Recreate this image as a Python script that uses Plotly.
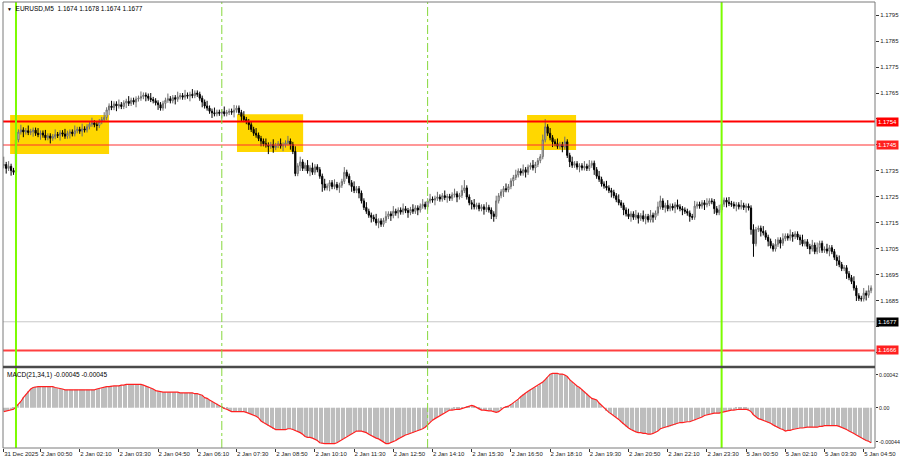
import plotly.graph_objects as go
from datetime import datetime, timedelta

# ---------------- data ----------------
# bar sessions: (first bar time, number of 5-minute bars)
sessions = [("2025-12-31 23:35", 5), ("2026-01-02 00:00", 288), ("2026-01-05 00:00", 62)]

first_open_pts = 1370  # points above 1.16000
# closes, in points (0.00001) above 1.16000
closes_pts = [
    1375, 1360, 1368, 1352, 1345,
    1470, 1500, 1508, 1500, 1505, 1498, 1502, 1507, 1495, 1490,
    1496, 1488, 1478, 1485, 1476, 1482, 1490, 1487, 1497, 1492,
    1484, 1495, 1500, 1493, 1505, 1510, 1503, 1512, 1508, 1520,
    1530, 1535, 1528, 1525, 1540, 1548, 1556, 1585, 1600, 1594,
    1608, 1600, 1605, 1598, 1612, 1618, 1610, 1622, 1615, 1627,
    1630, 1636, 1642, 1638, 1630, 1625, 1620, 1612, 1605, 1592,
    1610, 1622, 1628, 1620, 1632, 1626, 1635, 1640, 1634, 1642,
    1638, 1645, 1640, 1650, 1645, 1630, 1615, 1600, 1592, 1580,
    1574, 1570, 1576, 1572, 1578, 1570, 1575, 1580, 1576, 1584,
    1592, 1575, 1560, 1548, 1540, 1528, 1510, 1495, 1488, 1475,
    1465, 1455, 1450, 1445, 1452, 1440, 1448, 1455, 1446, 1450,
    1458, 1465, 1452, 1425, 1340, 1370, 1385, 1360, 1372, 1350,
    1362, 1345, 1366, 1355, 1330, 1300, 1285, 1292, 1305, 1290,
    1298, 1286, 1295, 1310, 1345, 1330, 1305, 1290, 1275, 1282,
    1265, 1235, 1210, 1195, 1180, 1172, 1165, 1150, 1158, 1145,
    1160, 1175, 1185, 1178, 1195, 1188, 1200, 1192, 1205, 1198,
    1190, 1202, 1195, 1208, 1200, 1215, 1222, 1212, 1235, 1242,
    1238, 1245, 1250, 1242, 1255, 1248, 1252, 1245, 1258, 1262,
    1250, 1256, 1275, 1285, 1250, 1228, 1222, 1212, 1218, 1205,
    1212, 1202, 1210, 1200, 1185, 1175, 1235, 1255, 1270, 1282,
    1278, 1290, 1312, 1325, 1335, 1350, 1342, 1355, 1345, 1365,
    1372, 1362, 1375, 1390, 1405, 1470, 1520, 1495, 1478, 1462,
    1455, 1445, 1452, 1442, 1462, 1410, 1385, 1372, 1378, 1365,
    1370, 1362, 1368, 1360, 1372, 1380, 1355, 1330, 1318, 1300,
    1292, 1285, 1275, 1268, 1255, 1240, 1228, 1218, 1200, 1185,
    1175, 1185, 1172, 1180, 1168, 1178, 1165, 1175, 1162, 1180,
    1172, 1188, 1212, 1235, 1210, 1218, 1205, 1215, 1208, 1220,
    1212, 1205, 1200, 1195, 1188, 1175, 1172, 1215, 1222, 1215,
    1228, 1220, 1225, 1235, 1232, 1205, 1190, 1200, 1222, 1238,
    1230, 1225, 1222, 1215, 1220, 1212, 1218, 1210, 1215, 1208,
    1125, 1070, 1125, 1130, 1118, 1112, 1095, 1080, 1062, 1050,
    1068, 1085, 1072, 1090, 1100, 1092, 1105, 1098, 1108, 1095,
    1085, 1070, 1078, 1060, 1050, 1065, 1040, 1055, 1072, 1045,
    1050, 1042, 1055, 1040, 1018, 1005, 990, 975, 978, 955,
    940, 925, 900, 870, 860, 858, 880, 872, 890, 900,
]
# upper / lower shadows beyond the body, in pips
up_wick_pips = [
    3, 1, 2, 1, 1,
    1, 1, 2, 1, 1, 2, 1, 1, 1, 2, 1, 1, 2, 1, 1, 1, 2, 1, 1, 1,
    2, 1, 1, 1, 2, 1, 1, 2, 1, 1, 1, 2, 1, 1, 1, 1, 2, 1, 1, 2,
    1, 1, 2, 1, 1, 1, 2, 1, 1, 1, 1, 2, 1, 1, 1, 2, 1, 1, 1, 1,
    1, 1, 2, 1, 1, 1, 2, 1, 1, 2, 1, 1, 2, 1, 1, 1, 1, 1, 2, 1,
    1, 2, 1, 1, 1, 2, 1, 1, 1, 2, 1, 1, 1, 2, 1, 1, 1, 1, 2, 1,
    1, 1, 2, 1, 1, 2, 1, 1, 2, 1, 1, 2, 1, 1, 2, 1, 2, 1, 1, 2,
    1, 2, 1, 1, 1, 1, 2, 1, 1, 1, 2, 1, 1, 1, 2, 1, 1, 1, 2, 1,
    1, 1, 1, 2, 1, 1, 1, 2, 1, 1, 1, 2, 1, 1, 2, 1, 1, 1, 2, 1,
    1, 1, 2, 1, 1, 1, 2, 1, 1, 2, 1, 1, 2, 1, 1, 2, 1, 1, 1, 2,
    1, 1, 2, 3, 1, 1, 1, 2, 1, 1, 1, 1, 2, 1, 1, 1, 2, 1, 1, 1,
    2, 1, 1, 1, 2, 1, 1, 2, 1, 1, 1, 2, 1, 1, 1, 2, 3, 1, 2, 1,
    1, 2, 1, 1, 2, 1, 1, 2, 1, 1, 1, 1, 2, 1, 2, 1, 1, 1, 2, 1,
    1, 2, 1, 1, 1, 1, 2, 1, 1, 1, 2, 1, 1, 2, 1, 1, 2, 1, 1, 2,
    1, 1, 2, 2, 1, 1, 2, 1, 1, 1, 2, 1, 1, 1, 1, 1, 1, 2, 1, 1,
    1, 1, 2, 1, 1, 1, 1, 2, 2, 1, 1, 2, 1, 1, 1, 1, 2, 1, 1, 1,
    1, 2, 1, 1, 1, 2, 1, 1, 1, 1, 2, 1, 1, 2, 1, 1, 2, 1, 1, 1,
    1, 2, 1, 1, 1, 2, 1, 2, 1, 1, 1, 2, 1, 1, 1, 1, 2, 1, 1, 1,
    1, 1, 2, 1, 1, 1, 2, 1, 2, 1,
]
down_wick_pips = [
    1, 2, 1, 2, 1,
    1, 1, 1, 2, 1, 1, 1, 2, 1, 1, 2, 1, 1, 1, 2, 1, 1, 1, 2, 1,
    1, 1, 2, 1, 1, 1, 1, 2, 1, 1, 1, 1, 1, 2, 1, 1, 1, 1, 2, 1,
    1, 2, 1, 1, 1, 2, 1, 1, 1, 2, 1, 1, 1, 2, 1, 1, 1, 1, 2, 1,
    1, 2, 1, 1, 1, 2, 1, 1, 1, 1, 1, 2, 1, 1, 1, 1, 2, 1, 1, 1,
    2, 1, 1, 1, 2, 1, 1, 1, 1, 2, 1, 1, 2, 1, 1, 2, 1, 1, 1, 1,
    2, 1, 1, 3, 1, 2, 1, 1, 1, 2, 1, 1, 2, 1, 1, 1, 2, 1, 1, 1,
    2, 1, 1, 1, 1, 3, 1, 1, 2, 1, 1, 1, 2, 1, 1, 1, 1, 2, 1, 1,
    2, 1, 1, 1, 1, 2, 1, 1, 2, 1, 1, 1, 1, 2, 1, 1, 2, 1, 1, 1,
    2, 1, 1, 1, 2, 1, 1, 1, 1, 1, 1, 2, 1, 1, 1, 1, 2, 1, 1, 1,
    2, 1, 1, 1, 1, 1, 2, 1, 1, 1, 1, 2, 1, 1, 2, 2, 1, 1, 1, 2,
    1, 1, 1, 2, 1, 1, 1, 1, 2, 1, 1, 1, 2, 1, 1, 1, 1, 1, 1, 2,
    1, 1, 1, 2, 1, 1, 2, 1, 1, 1, 2, 1, 1, 1, 1, 1, 2, 1, 1, 1,
    1, 1, 1, 2, 1, 1, 1, 1, 2, 1, 1, 2, 1, 1, 2, 1, 1, 2, 1, 1,
    2, 1, 1, 1, 1, 2, 1, 1, 1, 2, 1, 1, 2, 1, 1, 2, 1, 1, 1, 1,
    1, 2, 1, 1, 1, 2, 1, 1, 1, 1, 2, 1, 1, 1, 2, 1, 1, 1, 2, 1,
    2, 5, 1, 1, 2, 1, 1, 2, 1, 1, 1, 1, 2, 1, 1, 1, 1, 2, 1, 1,
    2, 1, 1, 1, 2, 1, 1, 1, 2, 1, 1, 1, 2, 1, 1, 2, 1, 1, 1, 2,
    1, 1, 1, 2, 1, 1, 1, 2, 1, 1,
]
# MACD(21,34,1) main value per bar, in units of 0.00001
macd_e5 = [
    -5, -4, -4, -3, -2,
    1, 4, 8, 13, 17, 21, 24, 26, 27, 27,
    27, 27, 27, 27, 27, 27, 26, 25, 24, 24,
    23, 23, 23, 23, 23, 23, 23, 23, 23, 23,
    23, 23, 23, 24, 25, 25, 26, 27, 27, 28,
    28, 28, 28, 29, 29, 30, 30, 30, 30, 30,
    30, 30, 29, 28, 27, 25, 24, 22, 21, 20,
    20, 20, 20, 20, 20, 20, 20, 19, 19, 19,
    19, 19, 19, 18, 18, 17, 16, 13, 12, 10,
    8, 6, 5, 3, 1, -1, -2, -4, -5, -5,
    -5, -5, -5, -5, -6, -7, -8, -9, -11, -13,
    -17, -19, -21, -23, -25, -27, -28, -28, -28, -28,
    -28, -27, -27, -28, -29, -31, -32, -34, -37, -38,
    -38, -39, -40, -42, -45, -46, -46, -46, -46, -46,
    -46, -45, -43, -41, -39, -37, -35, -34, -32, -30,
    -30, -30, -31, -32, -34, -36, -38, -39, -40, -42,
    -44, -46, -46, -45, -44, -42, -40, -38, -37, -35,
    -34, -33, -32, -31, -30, -29, -27, -25, -22, -18,
    -16, -14, -12, -10, -8, -6, -4, -3, -3, -2,
    -2, -2, -1, 0, 1, 2, 3, 2, 0, -2,
    -3, -3, -4, -4, -4, -5, -6, -5, -2, 0,
    1, 2, 4, 6, 8, 11, 14, 17, 19, 21,
    23, 25, 26, 28, 30, 33, 36, 39, 43, 44,
    44, 44, 43, 43, 42, 40, 36, 33, 30, 28,
    26, 23, 21, 18, 15, 12, 11, 10, 6, 3,
    0, -4, -6, -8, -10, -12, -15, -18, -21, -24,
    -26, -28, -30, -31, -32, -32, -33, -33, -34, -34,
    -33, -32, -30, -27, -26, -25, -25, -24, -23, -22,
    -20, -19, -19, -18, -18, -18, -17, -16, -14, -13,
    -12, -10, -9, -8, -7, -7, -7, -7, -6, -5,
    -4, -4, -3, -3, -2, -2, -2, -2, -2, -3,
    -5, -9, -12, -14, -15, -16, -17, -19, -20, -22,
    -24, -26, -27, -28, -30, -29, -29, -28, -27, -27,
    -26, -26, -25, -25, -25, -25, -25, -25, -24, -24,
    -23, -23, -23, -23, -23, -23, -24, -25, -27, -28,
    -30, -31, -33, -35, -37, -39, -41, -42, -43, -45,
]

tick_times = ["2025-12-31 23:35", "2026-01-02 00:50", "2026-01-02 02:10", "2026-01-02 03:30",
              "2026-01-02 04:50", "2026-01-02 06:10", "2026-01-02 07:30", "2026-01-02 08:50",
              "2026-01-02 10:10", "2026-01-02 11:30", "2026-01-02 12:50", "2026-01-02 14:10",
              "2026-01-02 15:30", "2026-01-02 16:50", "2026-01-02 18:10", "2026-01-02 19:30",
              "2026-01-02 20:50", "2026-01-02 22:10", "2026-01-02 23:30", "2026-01-05 00:50",
              "2026-01-05 02:10", "2026-01-05 03:30", "2026-01-05 04:50"]
tick_labels = ["31 Dec 2025", "2 Jan 00:50", "2 Jan 02:10", "2 Jan 03:30", "2 Jan 04:50",
               "2 Jan 06:10", "2 Jan 07:30", "2 Jan 08:50", "2 Jan 10:10", "2 Jan 11:30",
               "2 Jan 12:50", "2 Jan 14:10", "2 Jan 15:30", "2 Jan 16:50", "2 Jan 18:10",
               "2 Jan 19:30", "2 Jan 20:50", "2 Jan 22:10", "2 Jan 23:30", "5 Jan 00:50",
               "5 Jan 02:10", "5 Jan 03:30", "5 Jan 04:50"]
price_ticks = [1.1795, 1.1785, 1.1775, 1.1765, 1.1755, 1.1745, 1.1735, 1.1725, 1.1715,
               1.1705, 1.1695, 1.1685, 1.1675, 1.1665]
price_tick_labels = ["1.1795", "1.1785", "1.1775", "1.1765", "", "", "1.1735", "1.1725",
                     "1.1715", "1.1705", "1.1695", "1.1685", "", ""]
macd_ticks = [0.00042, 0.0, -0.00044]
macd_tick_labels = ["0.00042", "0.00", "-0.00044"]

# drawn objects
levels = [(1.1754, "#ff0000", 2), (1.1745, "#ff3030", 1.2), (1.1666, "#ff4040", 2)]
bid_level = 1.1677
zones = [("2025-12-31 23:48", "2026-01-02 03:10", 1.17565, 1.17415),
         ("2026-01-02 07:31", "2026-01-02 09:46", 1.17568, 1.17423),
         ("2026-01-02 17:23", "2026-01-02 19:03", 1.17565, 1.17431)]
vlines = [("2026-01-02 00:00", "solid"), ("2026-01-02 07:00", "dashdot"),
          ("2026-01-02 14:00", "dashdot"), ("2026-01-05 00:00", "solid")]
header = "EURUSD,M5  1.1674 1.1678 1.1674 1.1677"
macd_header = "MACD(21,34,1) -0.00045 -0.00045"

# ---------------- build ----------------
times = []
for s, n in sessions:
    t0 = datetime.strptime(s, "%Y-%m-%d %H:%M")
    times += [t0 + timedelta(minutes=5 * k) for k in range(n)]
xs = list(range(len(times)))


def pos(s):
    t = datetime.strptime(s, "%Y-%m-%d %H:%M")
    k = max(j for j, bt in enumerate(times) if bt <= t)
    return k + (t - times[k]).total_seconds() / 300.0


base = 1.16
closes = [base + c / 1e5 for c in closes_pts]
opens = [base + first_open_pts / 1e5] + closes[:-1]
highs = [max(o, c) + u / 1e4 for o, c, u in zip(opens, closes, up_wick_pips)]
lows = [min(o, c) - d / 1e4 for o, c, d in zip(opens, closes, down_wick_pips)]
macd = [v / 1e5 for v in macd_e5]

FONT = "Liberation Sans"

fig = go.Figure()
fig.add_trace(go.Candlestick(
    x=xs, open=opens, high=highs, low=lows, close=closes,
    increasing=dict(line=dict(color="#6e6e6e", width=1), fillcolor="#ffffff"),
    decreasing=dict(line=dict(color="#000000", width=1), fillcolor="#000000"),
    whiskerwidth=0, xaxis="x", yaxis="y", hoverinfo="skip"))
fig.add_trace(go.Bar(x=xs, y=macd, marker=dict(color="#bdbdbd", line=dict(width=0)),
                     xaxis="x", yaxis="y2", hoverinfo="skip"))
fig.add_trace(go.Scatter(x=xs, y=macd, mode="lines", line=dict(color="#ff2020", width=1.2),
                         xaxis="x", yaxis="y2", hoverinfo="skip"))

shapes = []
for t0, t1, ytop, ybot in zones:
    shapes.append(dict(type="rect", xref="x", yref="y", x0=pos(t0), x1=pos(t1), y0=ybot, y1=ytop,
                       fillcolor="#ffd700", line=dict(width=0), layer="below"))
for lv, col, w in levels:
    shapes.append(dict(type="line", xref="x domain", yref="y", x0=0, x1=1, y0=lv, y1=lv,
                       line=dict(color=col, width=w)))
shapes.append(dict(type="line", xref="x domain", yref="y", x0=0, x1=1, y0=bid_level, y1=bid_level,
                   line=dict(color="#c8c8c8", width=1)))
for t, style in vlines:
    xv = pos(t)
    if style == "solid":
        ln = dict(color="#7cfc00", width=2)
    else:
        ln = dict(color="#86d83c", width=1, dash="dashdot")
    shapes.append(dict(type="line", xref="x", yref="paper", x0=xv, x1=xv, y0=0, y1=1, line=ln))
# frame and panel separator
shapes.append(dict(type="rect", xref="paper", yref="paper", x0=0, x1=1, y0=0, y1=1,
                   line=dict(color="#7a7a7a", width=1)))
shapes.append(dict(type="line", xref="paper", yref="paper", x0=0, x1=1, y0=0.1816, y1=0.1816,
                   line=dict(color="#4a4a4a", width=2.5)))

annotations = [
    dict(xref="paper", yref="paper", x=0, y=1, xanchor="left", yanchor="top", xshift=2, yshift=-1,
         text="<span style='font-size:5px'>▼</span>  " + header, showarrow=False,
         font=dict(family=FONT, size=6.5, color="#000000")),
    dict(xref="paper", yref="paper", x=0, y=0.1794, xanchor="left", yanchor="top", xshift=2, yshift=-1,
         text=macd_header, showarrow=False, font=dict(family=FONT, size=6.5, color="#000000")),
]
for lv, bg in [(1.1754, "#ff0000"), (1.1745, "#ff2020"), (bid_level, "#000000"), (1.1666, "#ff2020")]:
    annotations.append(dict(xref="paper", yref="y", x=1, y=lv, xanchor="left", yanchor="middle",
                            xshift=1, text=f"{lv:.4f}", showarrow=False, bgcolor=bg, borderpad=1,
                            font=dict(family=FONT, size=6, color="#ffffff")))

fig.update_layout(
    width=900, height=460, margin=dict(l=3, r=25, t=2, b=12, autoexpand=False),
    paper_bgcolor="#ffffff", plot_bgcolor="#ffffff", showlegend=False, bargap=0.45,
    shapes=shapes, annotations=annotations,
    xaxis=dict(domain=[0, 1], anchor="y2", range=[-0.3, 355.6], tickmode="array", automargin=False,
               tickvals=[pos(t) for t in tick_times], ticktext=tick_labels, tickangle=0,
               ticklabelposition="outside right", ticks="outside", ticklen=3, tickcolor="#333333",
               tickfont=dict(family=FONT, size=6, color="#222222"), showgrid=False, zeroline=False,
               rangeslider=dict(visible=False), showline=False),
    yaxis=dict(domain=[0.1839, 1], anchor="x", side="right", range=[1.1660, 1.1800],
               tickmode="array", tickvals=price_ticks, ticktext=price_tick_labels, automargin=False,
               ticks="outside", ticklen=3, tickcolor="#333333",
               tickfont=dict(family=FONT, size=6, color="#222222"),
               showgrid=False, zeroline=False, showline=False),
    yaxis2=dict(domain=[0, 0.1794], anchor="x", side="right", range=[-0.000517, 0.00051],
                tickmode="array", tickvals=macd_ticks, ticktext=macd_tick_labels, automargin=False,
                ticks="outside", ticklen=2, tickcolor="#333333",
                tickfont=dict(family=FONT, size=5.3, color="#222222"),
                showgrid=False, zeroline=False, showline=False),
)

fig.write_html("out.html", config={"displayModeBar": False},
               post_script="document.body.style.margin='0';")
